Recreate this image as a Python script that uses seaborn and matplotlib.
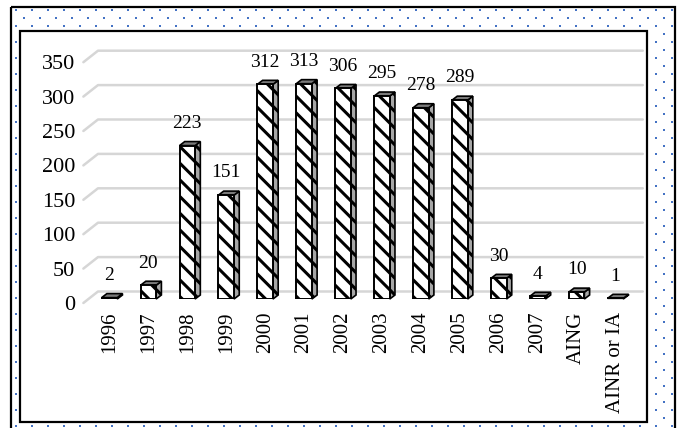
import numpy as np
import matplotlib
matplotlib.use("Agg")
import matplotlib.pyplot as plt
import matplotlib.transforms as mtransforms
from matplotlib.patches import Polygon, Rectangle
import seaborn as sns

# === dati ===
categories = ["1996", "1997", "1998", "1999", "2000", "2001", "2002",
              "2003", "2004", "2005", "2006", "2007", "AING", "AINR or IA"]
counts = [2, 20, 223, 151, 312, 313, 306, 295, 278, 289, 30, 4, 10, 1]
y_ticks = [0, 50, 100, 150, 200, 250, 300, 350]

sns.set_theme(style="white")
plt.rcParams['font.family'] = ['Liberation Serif', 'DejaVu Serif']
plt.rcParams['hatch.linewidth'] = 2.2

W, H = 677, 428
fig = plt.figure(figsize=(W / 100, H / 100), dpi=100)

# === cornice con puntini ===
bg = fig.add_axes([0, 0, 1, 1], zorder=0)
bg.set_xlim(0, W)
bg.set_ylim(H, 0)
bg.axis('off')
ax_a, ay_a = np.meshgrid(np.arange(0, W, 16), np.arange(-6, H + 16, 16))
ax_b, ay_b = np.meshgrid(np.arange(8, W, 16), np.arange(2, H + 16, 16))
dx_all = np.concatenate([ax_a.ravel(), ax_b.ravel()])
dy_all = np.concatenate([ay_a.ravel(), ay_b.ravel()])
inside_outer = (dx_all > 12) & (dx_all < 675) & (dy_all > 8)
inside_inner = (dx_all > 19) & (dx_all < 650) & (dy_all > 29) & (dy_all < 423)
keep = inside_outer & ~inside_inner
bg.scatter(dx_all[keep], dy_all[keep], marker='s', s=2.2, color='#4472c4', linewidths=0)
bg.add_patch(Rectangle((11, 7), 664, 426, fill=False, edgecolor='black', lw=1.6))
bg.add_patch(Rectangle((20, 31), 627, 391, facecolor='white', edgecolor='black', lw=1.6))

# === grafico ===
left, right, top, base = 90, 635, 40, 299
ax = fig.add_axes([left / W, (H - base) / H, (right - left) / W, (base - top) / H], zorder=2)
ax.patch.set_alpha(0)

x_px = 37.3          # pixel per categoria
y_px = 0.688         # pixel per unita'
ax.set_xlim((left - 118) / x_px, (right - 118) / x_px)
ax.set_ylim(0, (base - top) / y_px)

# linee della griglia in prospettiva
for v in y_ticks:
    front = v - 4 / y_px
    back = v + 7.5 / y_px
    ax.plot([-0.67, -0.295, 13.70], [front, back, back], color='#d6d6d6',
            lw=1.8, zorder=1, clip_on=False)

sns.barplot(x=categories, y=counts, color='white', saturation=1, edgecolor='black',
            linewidth=1.4, width=0.40, hatch='\\\\', ax=ax, zorder=3)

# facce laterali e superiori (effetto 3D)
ddx = 5 / x_px
ddy = 4 / y_px
for p, v in zip(ax.patches[:len(counts)], counts):
    x0, w, h = p.get_x(), p.get_width(), p.get_height()
    side = Polygon([(x0 + w, 0), (x0 + w + ddx, ddy), (x0 + w + ddx, h + ddy), (x0 + w, h)],
                   closed=True, facecolor='#a6a6a6', edgecolor='black', lw=1.2,
                   hatch='\\\\', zorder=2.9, clip_on=False)
    topf = Polygon([(x0, h), (x0 + ddx, h + ddy), (x0 + w + ddx, h + ddy), (x0 + w, h)],
                   closed=True, facecolor='#7a7a7a', edgecolor='black', lw=1.2,
                   zorder=2.9, clip_on=False)
    ax.add_patch(side)
    ax.add_patch(topf)
    ax.annotate(str(v), xy=(x0 + w / 2, h), xytext=(0, 16), textcoords='offset points',
                ha='center', va='center', fontsize=14, color='black')

ax.set_yticks(y_ticks)
ax.tick_params(axis='y', length=0, pad=10.8, labelsize=16, labelcolor='black')
ax.tick_params(axis='x', length=0, pad=9, labelsize=15, labelrotation=90, labelcolor='black')
ax.set_xlabel('')
ax.set_ylabel('')
sns.despine(ax=ax, left=True, bottom=True)
ax.grid(False)

shift = mtransforms.ScaledTranslation(0, -4 / 100, fig.dpi_scale_trans)
for lbl in ax.get_yticklabels():
    lbl.set_transform(lbl.get_transform() + shift)

fig.savefig("out.png", dpi=100)
